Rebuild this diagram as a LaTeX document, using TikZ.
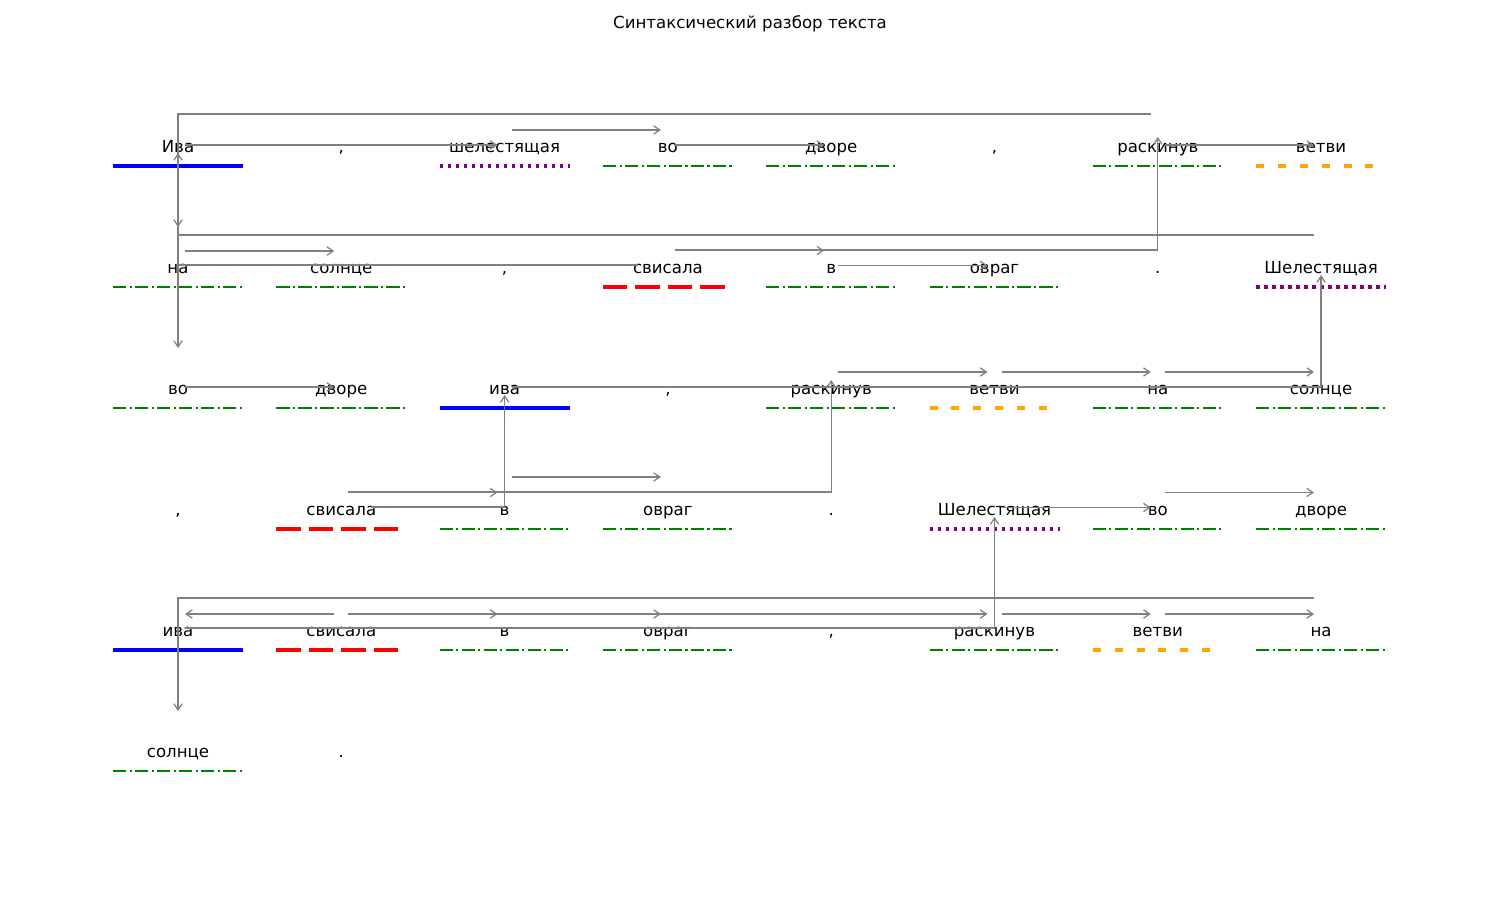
\documentclass[tikz,border=0pt]{standalone}
\usepackage{fontspec}
\setmainfont{DejaVu Sans}
\usepackage{tikz}
\usetikzlibrary{arrows.meta,calc}
\definecolor{mplgreen}{HTML}{008000}
\definecolor{mplpurple}{HTML}{800080}
\definecolor{mplorange}{HTML}{FFA500}
\tikzset{
  word/.style={inner sep=0pt, text height=8.64pt, text depth=0pt, font=\fontsize{12}{14}\selectfont},
  ul/.style={line width=2pt},
  subj/.style={ul, draw=blue, line width=2.3pt},
  pred/.style={ul, draw=red, line width=3pt, dash pattern=on 17.5pt off 6pt},
  attr/.style={ul, draw=mplpurple, line width=2.5pt, dash pattern=on 2.5pt off 3.3pt},
  adv/.style={ul, draw=mplgreen, line width=1.6pt, dash pattern=on 9.6pt off 2.4pt on 1.5pt off 2.4pt},
  obj/.style={ul, draw=mplorange, line width=2.4pt, dash pattern=on 5.8pt off 10pt},
  arr/.style={-{Straight Barb[length=4.5pt,width=6pt]}, draw=gray, line width=0.9pt}}
\begin{document}
\begin{tikzpicture}[x=0.0254cm, y=-0.0254cm]
  \useasboundingbox (0,0) rectangle (1500,919);
  \node[word] (title) at (750,23) {Синтаксический разбор текста};
  \foreach \row/\col/\txt in {1/1/Ива, 1/2/{,}, 1/3/шелестящая, 1/4/во, 1/5/дворе, 1/6/{,}, 1/7/раскинув, 1/8/ветви,
      2/1/на, 2/2/солнце, 2/3/{,}, 2/4/свисала, 2/5/в, 2/6/овраг, 2/7/., 2/8/Шелестящая,
      3/1/во, 3/2/дворе, 3/3/ива, 3/4/{,}, 3/5/раскинув, 3/6/ветви, 3/7/на, 3/8/солнце,
      4/1/{,}, 4/2/свисала, 4/3/в, 4/4/овраг, 4/5/., 4/6/Шелестящая, 4/7/во, 4/8/дворе,
      5/1/ива, 5/2/свисала, 5/3/в, 5/4/овраг, 5/5/{,}, 5/6/раскинув, 5/7/ветви, 5/8/на,
      6/1/солнце, 6/2/.}
    \node[word] (w\row\col) at ({178+(\col-1)*163.3},{147+(\row-1)*121}) {\txt};
  \foreach \n/\s in {11/subj, 13/attr, 14/adv, 15/adv, 17/adv, 18/obj, 21/adv, 22/adv, 24/pred, 25/adv, 26/adv, 28/attr,
      31/adv, 32/adv, 33/subj, 35/adv, 36/obj, 37/adv, 38/adv, 42/pred, 43/adv, 44/adv, 46/attr, 47/adv, 48/adv,
      51/subj, 52/pred, 53/adv, 54/adv, 56/adv, 57/obj, 58/adv, 61/adv}
    \draw[\s] ($(w\n)+(-65,19)$) -- ($(w\n)+(65,19)$);
  \foreach \a/\b/\h in {11/13/-2, 13/14/-17, 14/15/-2, 17/18/-2, 21/22/-17, 24/25/-17.5, 25/26/-2.5, 31/32/-2, 35/36/-17,
      36/37/-17, 37/38/-17, 42/43/-17.5, 43/44/-33, 46/47/-2.5, 47/48/-17.5, 52/53/-17, 53/54/-17, 52/56/-17, 56/57/-17, 57/58/-17}
    \draw[arr] ($(w\a)+(7,\h)$) -- ($(w\b)+(-7,\h)$);
  \draw[arr] ($(w52)+(-7,-17)$) -- ($(w51)+(7,-17)$);
  \foreach \a/\b/\sx/\sy/\ty in {17/21/-7/-33/-41, 24/11/-30/-3/6, 24/17/7/-18/-10, 28/31/-7/-33/-41, 33/28/7/-2/7,
      42/33/30/-3/6, 42/35/7/-18/-9, 51/46/7/-3/7, 58/61/-7/-33/-41}
    \draw[arr] ($(w\a)+(\sx,\sy)$) -| ($(w\b)+(0,\ty)$);
\end{tikzpicture}
\end{document}
